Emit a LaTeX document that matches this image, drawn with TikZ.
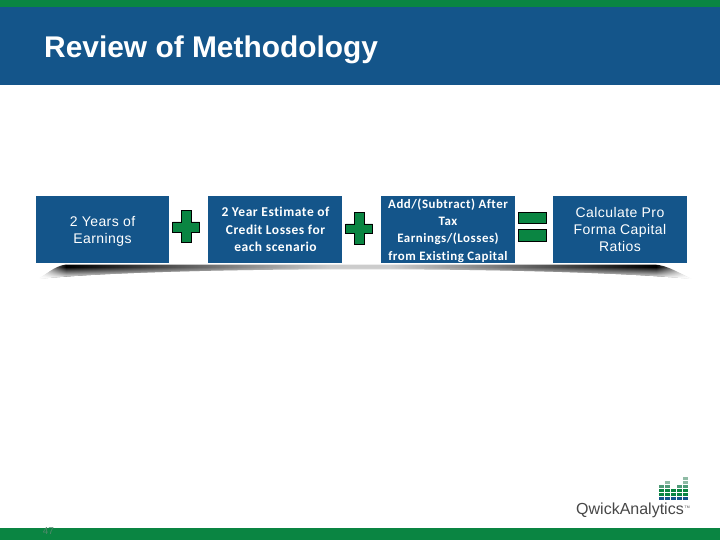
\documentclass[tikz,border=0pt]{standalone}
\usepackage{fontspec}
\setmainfont{Liberation Sans}
\newfontfamily\boxbold[LetterSpace=4,RawFeature=-liga]{Carlito}
\newfontfamily\thinfont[LetterSpace=3]{Liberation Sans}
\usetikzlibrary{fadings}
\definecolor{qblue}{HTML}{14558A}
\definecolor{qgreen}{HTML}{0A8542}
\definecolor{qmid}{HTML}{4F9A78}
\definecolor{qlight}{HTML}{8FBBA5}
\tikzset{
  x=1pt,y=-1pt,
  stepbox/.style={fill=qblue,draw=none,minimum width=134pt,minimum height=67pt,inner sep=0pt,anchor=north west},
  plainlabel/.style={font=\thinfont\fontsize{14}{17.2}\selectfont,text=white,align=center},
  boldlabel/.style={font=\boxbold\bfseries\fontsize{13.5}{17.4}\selectfont,text=white,align=center},
  signshape/.style={fill=qgreen,draw=black,line width=0.9pt},
  logocell/.style={minimum width=5.4pt,minimum height=3pt,inner sep=0pt,draw=none,anchor=north west}
}
\begin{document}
\begin{tikzpicture}
\useasboundingbox (0,0) rectangle (720,540);
\fill[white] (0,0) rectangle (720,540);
\fill[qblue] (0,7) rectangle (720,85);
\fill[qgreen] (0,0) rectangle (720,7);
\fill[qgreen] (0,528) rectangle (720,540);
\node[anchor=west,text=white,font=\bfseries\fontsize{29.9}{32}\selectfont,inner sep=0pt] (title) at (44,50) {Review of Methodology};
% shadow
\begin{scope}
\clip (38,279) .. controls (46,275) and (54,266) .. (66,264.5) -- (654,264.5) .. controls (668,265) and (680,274) .. (692,279) .. controls (560,266) and (160,266) .. (38,279) -- cycle;
\shade[left color=white,right color=black] (38,262) rectangle (66,280);
\shade[left color=black,middle color=black!50,right color=black!20] (66,262) rectangle (330,280);
\fill[black!20] (330,262) rectangle (390,280);
\shade[left color=black!20,middle color=black!50,right color=black] (390,262) rectangle (656,280);
\shade[left color=black,right color=white] (656,262) rectangle (692,280);
\fill[white,path fading=north] (38,267) rectangle (692,278);
\fill[white] (38,278) rectangle (692,280);
\end{scope}
% boxes
\node[stepbox,minimum width=133pt] (b1) at (36,196) {};
\node[stepbox] (b2) at (208,196) {};
\node[stepbox] (b3) at (381,196) {};
\node[stepbox] (b4) at (553,196) {};
\node[plainlabel] (t1) at (102.5,231) {2 Years of\\Earnings};
\node[boldlabel] (t2) at (275.5,229.5) {2 Year Estimate of\\Credit Losses for\\each scenario};
\node[boldlabel,font=\boxbold\bfseries\fontsize{12.9}{17.4}\selectfont] (t3) at (448,230.5) {Add/(Subtract) After\\Tax\\Earnings/(Losses)\\from Existing Capital};
\node[plainlabel] (t4) at (620,229.5) {Calculate Pro\\Forma Capital\\Ratios};
% plus signs
\draw[signshape] (181,210.5) -- (191,210.5) -- (191,222) -- (199.5,222) -- (199.5,232) -- (191,232) -- (191,242.5) -- (181,242.5) -- (181,232) -- (172.5,232) -- (172.5,222) -- (181,222) -- cycle;
\draw[signshape] (354,212.5) -- (364,212.5) -- (364,224) -- (372.5,224) -- (372.5,233.5) -- (364,233.5) -- (364,244.5) -- (354,244.5) -- (354,233.5) -- (345.5,233.5) -- (345.5,224) -- (354,224) -- cycle;
% equals
\draw[signshape] (518.5,212.5) rectangle (546.5,223.5);
\draw[signshape] (518.5,229.5) rectangle (546.5,241.5);
% page number
\node[text=black!35!qgreen!70!white,font=\fontsize{10}{12}\selectfont,inner sep=0pt] (page) at (48.5,531) {47};
% logo
\foreach \col/\first in {0/2,1/1,2/3,3/2,4/0}{
  \pgfmathsetmacro{\xa}{658.4+\col*6}
  \foreach \row/\shadecol in {0/qlight,1/qlight,2/qmid,3/qgreen,4/qgreen,5/qblue}{
    \ifnum\row<\first\else
      \pgfmathsetmacro{\ya}{477+\row*4.05}
      \node[logocell,fill=\shadecol] (c\col\row) at (\xa,\ya) {};
    \fi
  }
}
\node[anchor=west,inner sep=0pt,text=black!72,font=\fontsize{16}{18}\selectfont] (logo) at (576,510) {QwickAnalytics};
\node[anchor=west,inner sep=0pt,text=black!70,font=\fontsize{3.5}{4}\selectfont] (tm) at (684.5,507.5) {TM};
\end{tikzpicture}
\end{document}
